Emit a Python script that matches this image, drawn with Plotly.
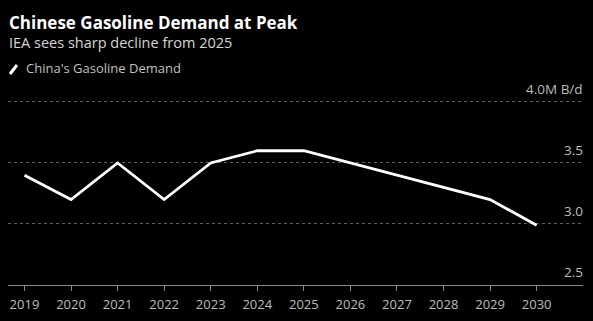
import plotly.graph_objects as go

years = [2019, 2020, 2021, 2022, 2023, 2024, 2025, 2026, 2027, 2028, 2029, 2030]
demand = [3.40, 3.20, 3.50, 3.20, 3.50, 3.60, 3.60, 3.50, 3.40, 3.30, 3.20, 2.99]
ytick_vals = [2.5, 3.0, 3.5, 4.0]
ytick_text = ["2.5", "3.0", "3.5", "4.0M B/d"]
series_name = "China's Gasoline Demand"
title = "Chinese Gasoline Demand at Peak"
subtitle = "IEA sees sharp decline from 2025"

W, H = 593, 321
L, R, T, B = 8, 10, 80, 36
pw, ph = W - L - R, H - T - B

def px(x):
    return (x - L) / pw

def py(y):
    return (H - B - y) / ph

FONT = "Open Sans"

fig = go.Figure()
fig.add_trace(go.Scatter(
    x=years, y=demand, mode="lines", name=series_name,
    line=dict(color="#ffffff", width=2.8), showlegend=False,
))

fig.update_layout(
    width=W, height=H,
    margin=dict(l=L, r=R, t=T, b=B, pad=0),
    paper_bgcolor="#000000", plot_bgcolor="#000000",
    font=dict(family=FONT, color="#bdbdbd", size=12),
    xaxis=dict(
        range=[2018.646, 2030.996], tickvals=years, ticktext=[str(y) for y in years],
        showgrid=False, zeroline=False, showline=True, linecolor="#8a8a8a", linewidth=1,
        ticks="outside", ticklen=5, tickcolor="#8a8a8a", tickwidth=1,
        ticklabelstandoff=2,
        tickfont=dict(size=13, color="#bdbdbd", family=FONT),
    ),
    yaxis=dict(
        range=[2.5, 4.18], side="right", tickvals=ytick_vals,
        showticklabels=False, showgrid=True, gridcolor="#606060", griddash="dot",
        gridwidth=1, zeroline=False, showline=False, ticks="",
    ),
    showlegend=False,
)

for v, t in zip(ytick_vals, ytick_text):
    fig.add_annotation(text=t, xref="paper", yref="y", x=1, y=v,
                       xanchor="right", yanchor="middle", yshift=13, xshift=2,
                       showarrow=False,
                       font=dict(size=13.5, color="#bdbdbd", family=FONT))

fig.add_annotation(text="<b>" + title + "</b>", xref="paper", yref="paper",
                   x=px(7), y=py(23), xanchor="left", yanchor="middle", showarrow=False,
                   font=dict(size=17, color="#ffffff", family=FONT))
fig.add_annotation(text=subtitle, xref="paper", yref="paper",
                   x=px(7), y=py(42), xanchor="left", yanchor="middle", showarrow=False,
                   font=dict(size=14.5, color="#d6d6d6", family=FONT))
fig.add_annotation(text=series_name, xref="paper", yref="paper",
                   x=px(24), y=py(68), xanchor="left", yanchor="middle", showarrow=False,
                   font=dict(size=13, color="#c0c0c0", family=FONT))
fig.add_shape(type="line", xref="paper", yref="paper",
              x0=px(10), y0=py(74), x1=px(17), y1=py(65),
              line=dict(color="#ffffff", width=3))

fig.write_html("out.html")
